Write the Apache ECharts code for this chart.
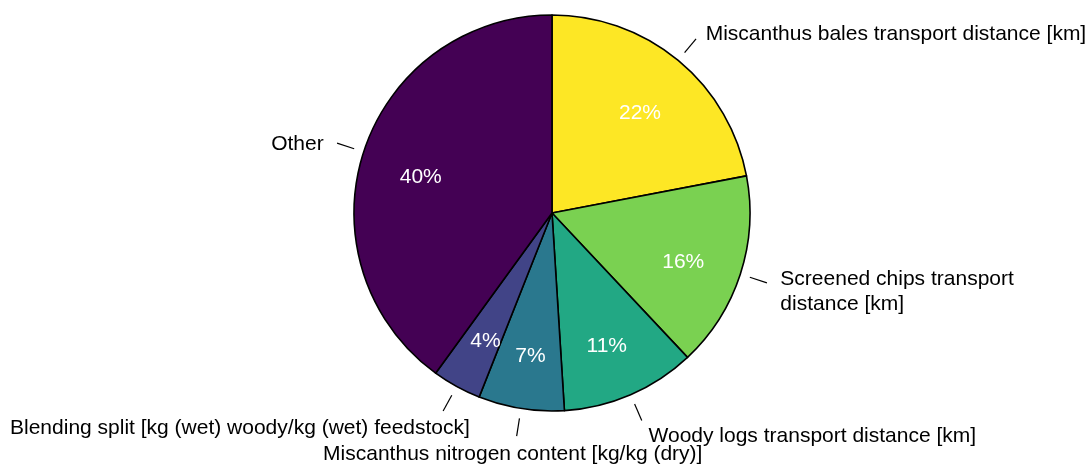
<!DOCTYPE html>
<html>
<head>
<meta charset="utf-8">
<script src="https://cdn.jsdelivr.net/npm/echarts@6/dist/echarts.min.js"></script>
<style>
  html, body { margin: 0; padding: 0; background: #ffffff; }
  #pie_chart { width: 1088px; height: 467px; }
</style>
</head>
<body>
<div id="pie_chart"></div>
<script>
// slice names and shares (%), clockwise from 12 o'clock
var names = [
  "Miscanthus bales transport distance [km]",
  "Screened chips transport\ndistance [km]",
  "Woody logs transport distance [km]",
  "Miscanthus nitrogen content [kg/kg (dry)]",
  "Blending split [kg (wet) woody/kg (wet) feedstock]",
  "Other"
];
var shares = [22, 16, 11, 7, 4, 40];
var colors = ["#FDE725", "#7AD151", "#22A884", "#2A788E", "#414487", "#440154"];

var CENTER = [552, 213];
var R = 198;
var FONT = "Liberation Sans, Arial, sans-serif";

var pieData = names.map(function (n, i) { return { name: n, value: shares[i] }; });
var hidden = { color: "rgba(0,0,0,0)", borderWidth: 0 };

var pieChart = echarts.init(document.getElementById("pie_chart"));

var pieChartOptions = {
  animation: false,
  series: [
    {
      // the visible pie
      type: "pie",
      center: CENTER,
      radius: [0, R],
      startAngle: 90,
      silent: true,
      color: colors,
      itemStyle: { borderColor: "#000000", borderWidth: 1.6 },
      label: { show: false },
      labelLine: { show: false },
      data: pieData
    },
    {
      // percent labels inside the slices
      type: "pie",
      center: CENTER,
      radius: [62, 208],
      startAngle: 90,
      silent: true,
      itemStyle: hidden,
      label: {
        show: true,
        position: "inside",
        formatter: "{c}%",
        color: "#ffffff",
        fontFamily: FONT,
        fontSize: 21
      },
      labelLine: { show: false },
      labelLayout: { dy: 7 },
      data: pieData
    },
    {
      // short leader dashes just outside the pie
      type: "pie",
      center: CENTER,
      radius: [0, 208],
      startAngle: 90,
      silent: true,
      avoidLabelOverlap: false,
      itemStyle: hidden,
      label: { show: true, position: "outside", formatter: " ", fontSize: 4 },
      labelLine: {
        show: true,
        length: 18,
        length2: 0,
        lineStyle: { color: "#000000", width: 1.2 }
      },
      data: pieData
    },
    {
      // slice names
      type: "pie",
      center: CENTER,
      radius: [0, R],
      startAngle: 90,
      silent: true,
      avoidLabelOverlap: false,
      itemStyle: hidden,
      label: {
        show: true,
        position: "outside",
        overflow: "none",
        formatter: "{b}",
        color: "#000000",
        fontFamily: FONT,
        fontSize: 21,
        lineHeight: 25,
        distanceToLabelLine: 2
      },
      labelLine: { show: false, length: 40, length2: 0 },
      labelLayout: function (p) {
        var r = p.labelRect;
        var ax = p.align === "right" ? r.x + r.width : r.x;
        // labels hanging straight below the pie are centred on their dash
        if (Math.abs(ax - CENTER[0]) < 60) {
          return { dx: p.align === "right" ? r.width / 2 : -r.width / 2, dy: 6 };
        }
        // keep long labels inside the page
        if (r.x < 10) return { dx: 10 - r.x, dy: 7 };
        return { dy: 5 };
      },
      data: pieData
    }
  ]
};

pieChart.setOption(pieChartOptions);
</script>
</body>
</html>
